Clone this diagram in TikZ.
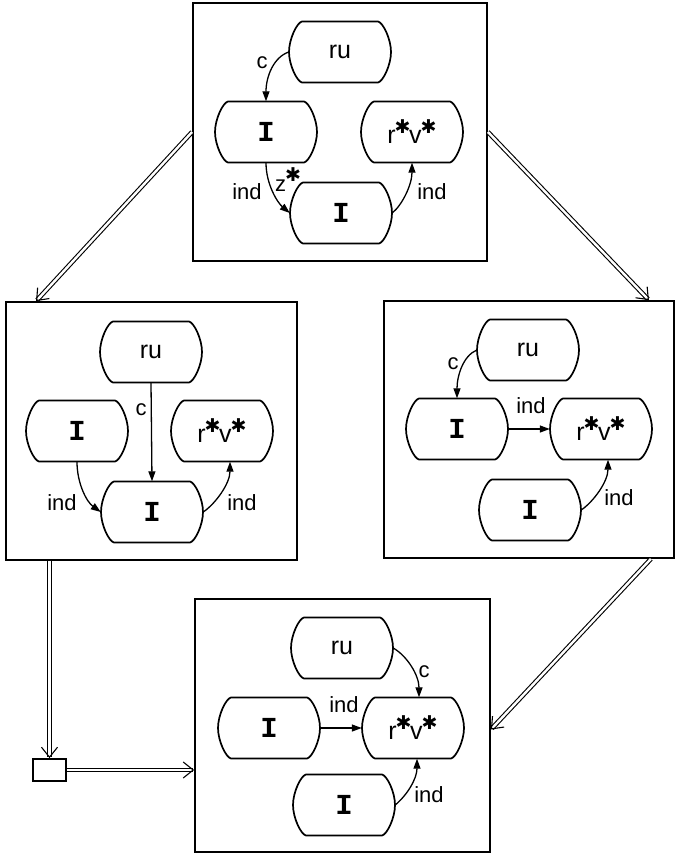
\documentclass[tikz,border=0pt]{standalone}
\usepackage{fontspec}
\setmainfont{Liberation Sans}
\newfontfamily\monof{Liberation Mono}
\newfontfamily\symf{DejaVu Sans}
\usetikzlibrary{arrows.meta,calc}
\newcommand\stx{\raisebox{10pt}{\symf\fontsize{19}{19}\selectfont ✱}}
\newcommand\rvtxt{r\kern-1pt\stx\kern-1.5pt v\kern-1pt\stx}
\newcommand\Ilt{{\monof\bfseries\fontsize{29}{29}\selectfont I}}
\newcommand\stateoutline[1]{\draw[nodeline] ($(#1.center)+(-38,-30.5)$) -- ++(76,0) .. controls +(5,1) and +(0,-13) .. ++(13,30.5) .. controls +(0,13) and +(5,-1) .. ++(-13,30.5) -- ++(-76,0) .. controls +(-5,-1) and +(0,13) .. ++(-13,-30.5) .. controls +(0,-13) and +(-5,1) .. ++(13,-30.5) -- cycle;}
\tikzset{
  st/.style={minimum width=102pt, minimum height=61pt, inner sep=0pt, font=\fontsize{25}{25}\selectfont},
  nodeline/.style={line width=1.7pt, line join=round},
  lbl/.style={font=\fontsize{22}{22}\selectfont, inner sep=0pt},
  framebox/.style={draw, line width=1.8pt, inner sep=0pt},
  ar/.style={-{Triangle[length=10pt,width=7pt]}, line width=1.3pt},
  dbl/.style={double=white, double distance=2.4pt, line width=1.1pt, -{Straight Barb[length=10pt,width=16pt,line width=1.1pt]}}
}
\begin{document}
\begin{tikzpicture}[x=1pt,y=-1pt]
\useasboundingbox (0,0) rectangle (676,854);
% frames
\node[framebox, minimum width=294pt, minimum height=258pt] (B1) at (340,132) {};
\node[framebox, minimum width=291pt, minimum height=258pt] (B2) at (151.5,431) {};
\node[framebox, minimum width=290pt, minimum height=257pt] (B3) at (529,429.5) {};
\node[framebox, minimum width=295pt, minimum height=253pt] (B4) at (342.5,725.5) {};
\node[framebox, minimum width=33pt, minimum height=22pt] (sq) at (49.5,770) {};
% top box
\node[st] (t1) at (340,52) {ru};
\node[st] (t2) at (266,132) {\Ilt};
\node[st] (t3) at (412,132) {\rvtxt};
\node[st] (t4) at (341,213) {\Ilt};
% left box
\node[st] (l1) at (151,352) {ru};
\node[st] (l2) at (77,431) {\Ilt};
\node[st] (l3) at (222,431) {\rvtxt};
\node[st] (l4) at (152,512) {\Ilt};
% right box
\node[st] (r1) at (528,350) {ru};
\node[st] (r2) at (457,429) {\Ilt};
\node[st] (r3) at (601,429) {\rvtxt};
\node[st] (r4) at (530,510) {\Ilt};
% bottom box
\node[st] (b1) at (342,648) {ru};
\node[st] (b2) at (269,728) {\Ilt};
\node[st] (b3) at (413,728) {\rvtxt};
\node[st] (b4) at (344,805) {\Ilt};
\foreach \n in {t1,t2,t3,t4,l1,l2,l3,l4,r1,r2,r3,r4,b1,b2,b3,b4} {\stateoutline{\n}}
% top edges
\draw[ar] (t1.west) .. controls +(-15,5) and +(0,-25) .. (t2.north);
\draw[ar] (t2.south) .. controls +(0,22) and +(-12,-10) .. (t4.west);
\draw[ar] (t4.east) .. controls +(10,-8) and +(0,22) .. (t3.south);
\node[lbl] (tc) at (262,63) {c};
\node[lbl] (tind1) at (247,192) {ind};
\node[lbl] (tz) at (288,180) {z\kern-1pt\stx};
\node[lbl] (tind2) at (432,192) {ind};
% left edges
\draw[ar] (l1.south) -- (l4.north);
\draw[ar] (l2.south) .. controls +(0,22) and +(-14,-10) .. (l4.west);
\draw[ar] (l4.east) .. controls +(12,-8) and +(0,22) .. ($(l3.south)+(8,0)$);
\node[lbl] (lc) at (141,410) {c};
\node[lbl] (lind1) at (62,503) {ind};
\node[lbl] (lind2) at (242,503) {ind};
% right edges
\draw[ar] (r1.west) .. controls +(-14,6) and +(0,-22) .. (r2.north);
\draw[ar] (r2.east) -- (r3.west);
\draw[ar] (r4.east) .. controls +(12,-8) and +(0,22) .. ($(r3.south)+(7,0)$);
\node[lbl] (rc) at (453,364) {c};
\node[lbl] (rind1) at (531,406) {ind};
\node[lbl] (rind2) at (619,498) {ind};
% bottom edges
\draw[ar] (b1.east) .. controls +(14,8) and +(0,-22) .. ($(b3.north)+(6,0)$);
\draw[ar] (b2.east) -- (b3.west);
\draw[ar] (b4.east) .. controls +(12,-10) and +(0,20) .. ($(b3.south)+(4,0)$);
\node[lbl] (bc) at (424,672) {c};
\node[lbl] (bind1) at (344,705) {ind};
\node[lbl] (bind2) at (429,795) {ind};
% double arrows between frames
\coordinate (e12) at ($(B2.north west)+(31,0)$);
\coordinate (e13) at ($(B3.north east)+(-26,0)$);
\coordinate (e3b) at ($(B3.south east)+(-24,0)$);
\draw[dbl] (B1.west) -- (e12);
\draw[dbl] (B1.east) -- (e13);
\draw[dbl] (B2.south -| sq.north) -- (sq.north);
\draw[dbl] (sq.east) -- (sq.east -| B4.west);
\draw[dbl] (e3b) -- ($(B4.east)+(0,4)$);
\end{tikzpicture}
\end{document}
